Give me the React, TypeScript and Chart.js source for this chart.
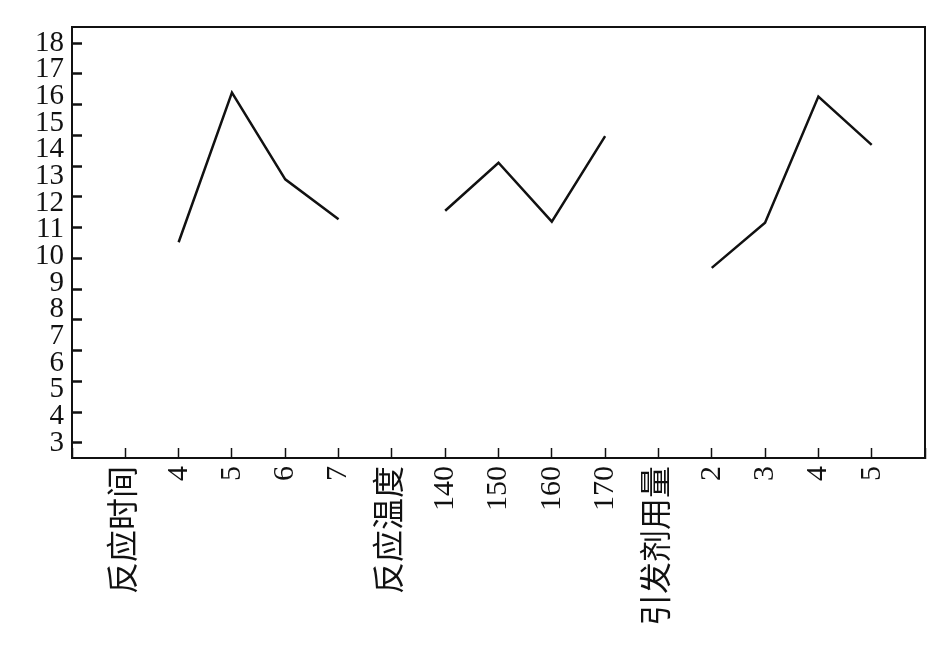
import React, { useEffect, useRef } from 'react';
import { Chart, registerables } from 'chart.js';

Chart.register(...registerables);

// Categories (empty entries at both ends sit on the frame edges)
const categories = ['', '反应时间', '4', '5', '6', '7', '反应温度', '140', '150', '160', '170', '引发剂用量', '2', '3', '4', '5', ''];

// Series values per factor group
const timeValues = [10.53, 16.14, 12.89, 11.39];
const tempValues = [11.71, 13.51, 11.3, 14.51];
const initiatorValues = [9.57, 11.26, 15.99, 14.18];

// Y tick labels
const yTicks = [3, 4, 5, 6, 7, 8, 9, 10, 11, 12, 13, 14, 15, 16, 17, 18];
const yMin = 2.44;
const yMax = 18.6;

// Tick-mark axis (marks on the left axis are spaced independently of the labels)
const markTicks = [0, 1, 2, 3, 4, 5, 6, 7, 8, 9, 10, 11, 12, 13];
const markMin = -0.51;
const markMax = 13.51;

const seriesValues: (number | null)[] = [
  null,
  null,
  ...timeValues,
  null,
  ...tempValues,
  null,
  ...initiatorValues,
  null,
];

const INK = '#111111';
const FONT = "'Liberation Serif', 'Times New Roman', 'Noto Sans CJK SC', serif";

const framePlugin = {
  id: 'frame',
  afterDraw(chart: any) {
    const { ctx, chartArea } = chart;
    ctx.save();
    ctx.strokeStyle = INK;
    ctx.lineWidth = 2;
    ctx.beginPath();
    ctx.moveTo(chartArea.left, chartArea.top);
    ctx.lineTo(chartArea.right, chartArea.top);
    ctx.lineTo(chartArea.right, chartArea.bottom);
    ctx.stroke();
    const ms = chart.scales['yMarks'];
    if (ms) {
      ctx.lineWidth = 2.5;
      ctx.beginPath();
      for (const t of ms.ticks) {
        const py = Math.round(ms.getPixelForValue(t.value)) + 0.5;
        ctx.moveTo(chartArea.left, py);
        ctx.lineTo(chartArea.left + 10, py);
      }
      ctx.stroke();
    }
    ctx.restore();
  },
};

export default function App() {
  const ref = useRef<HTMLCanvasElement | null>(null);

  useEffect(() => {
    if (!ref.current) return;
    const chart = new Chart(ref.current, {
      type: 'line',
      data: {
        labels: categories,
        datasets: [
          {
            data: seriesValues,
            borderColor: INK,
            borderWidth: 2.5,
            pointRadius: 0,
            tension: 0,
            spanGaps: false,
            fill: false,
          },
        ],
      },
      options: {
        responsive: false,
        animation: false,
        layout: { padding: { top: 27, right: 20, left: 0, bottom: 0 } },
        plugins: {
          legend: { display: false },
          tooltip: { enabled: false },
        },
        scales: {
          x: {
            type: 'category',
            offset: false,
            grid: {
              display: true,
              drawOnChartArea: false,
              drawTicks: true,
              tickLength: -10,
              tickWidth: 1.5,
              color: INK,
            },
            border: { display: true, color: INK, width: 2 },
            ticks: {
              autoSkip: false,
              maxRotation: 90,
              minRotation: 90,
              padding: 18,
              color: INK,
              font: (c: any) => {
                const lbl = categories[c.index] || '';
                return { family: FONT, size: /[\u4e00-\u9fff]/.test(lbl) ? 32 : 30 };
              },
            },
            afterFit: (s: any) => {
              s.height = 203;
              s.paddingLeft = 0;
              s.paddingRight = 0;
            },
          },
          y: {
            type: 'linear',
            position: 'left',
            weight: 1,
            min: yMin,
            max: yMax,
            grid: { display: true, drawOnChartArea: false, drawTicks: false },
            border: { display: true, color: INK, width: 2 },
            ticks: {
              autoSkip: false,
              padding: 8,
              color: INK,
              font: { family: FONT, size: 29 },
            },
            afterBuildTicks: (s: any) => {
              s.ticks = yTicks.map((v) => ({ value: v }));
            },
            afterFit: (s: any) => {
              s.width = 72;
            },
          },
          yMarks: {
            type: 'linear',
            position: 'left',
            weight: 0,
            min: markMin,
            max: markMax,
            grid: { display: false },
            border: { display: false },
            ticks: { display: false, autoSkip: false },
            afterBuildTicks: (s: any) => {
              s.ticks = markTicks.map((v) => ({ value: v }));
            },
            afterFit: (s: any) => {
              s.width = 0;
              s.paddingTop = 0;
              s.paddingBottom = 0;
            },
          },
        },
      },
      plugins: [framePlugin],
    });
    return () => chart.destroy();
  }, []);

  return (
    <div style={{ position: 'fixed', left: 0, top: 0, width: 945, height: 661, background: '#fff' }}>
      <canvas ref={ref} width={945} height={661} />
    </div>
  );
}
